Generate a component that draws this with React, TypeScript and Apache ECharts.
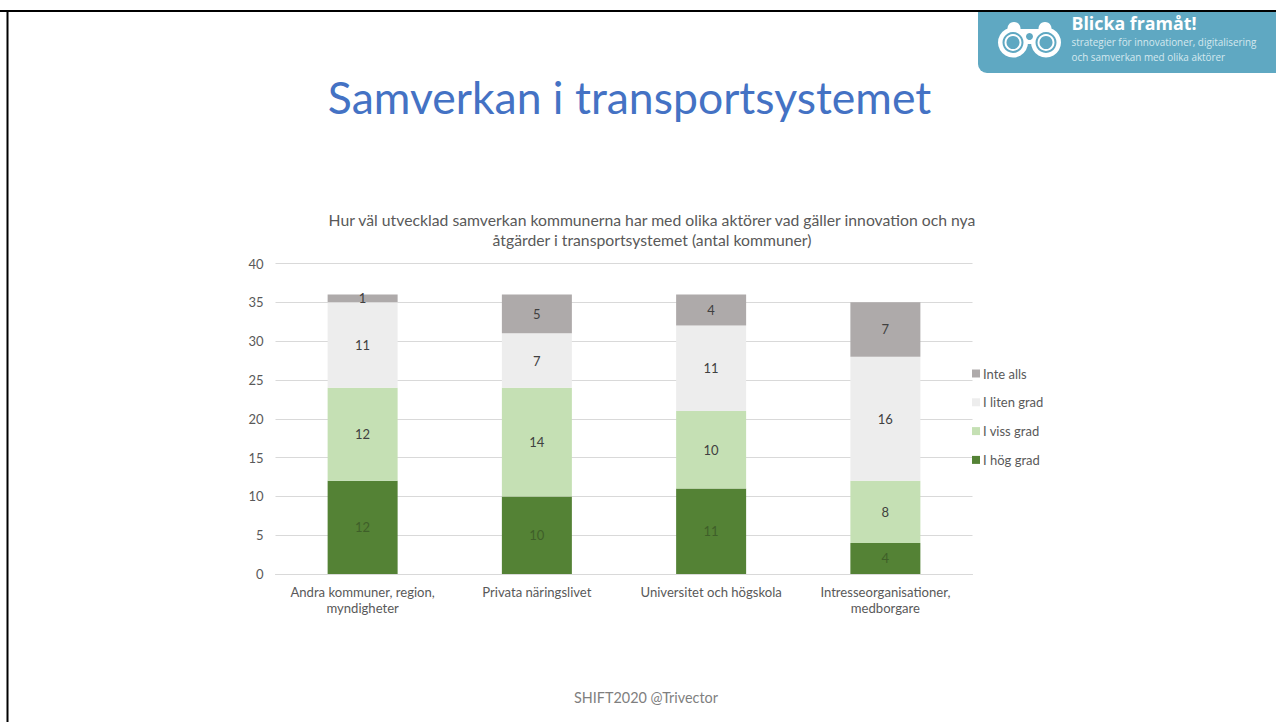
import React, { useEffect, useRef } from "react";
import * as echarts from "echarts";

const categories = [
  "Andra kommuner, region,\nmyndigheter",
  "Privata näringslivet",
  "Universitet och högskola",
  "Intresseorganisationer,\nmedborgare",
];
const hogGrad = [12, 10, 11, 4];
const vissGrad = [12, 14, 10, 8];
const litenGrad = [11, 7, 11, 16];
const inteAlls = [1, 5, 4, 7];
const legendOrder = ["Inte alls", "I liten grad", "I viss grad", "I hög grad"];
const slideTitle = "Samverkan i transportsystemet";
const chartTitle =
  "Hur väl utvecklad samverkan kommunerna har med olika aktörer vad gäller innovation och nya\nåtgärder i transportsystemet (antal kommuner)";
const footer = "SHIFT2020 @Trivector";

const FONT = "Lato, 'Open Sans', sans-serif";
const TEAL = "#5FA8C2";

function bar(name: string, data: number[], color: string, labelColor: string) {
  return {
    name,
    type: "bar",
    stack: "total",
    data,
    barWidth: 70,
    itemStyle: { color },
    label: {
      show: true,
      position: "inside",
      color: labelColor,
      fontSize: 13,
      fontFamily: FONT,
    },
  };
}

function binoculars() {
  const white = { fill: "#ffffff" };
  const teal = { fill: TEAL };
  const left = 1013;
  const right = 1046;
  const cy = 42.5;
  return [
    { type: "circle", shape: { cx: left + 1, cy: 28.5, r: 6.5 }, style: white },
    { type: "circle", shape: { cx: right - 1, cy: 28.5, r: 6.5 }, style: white },
    { type: "rect", shape: { x: left, y: 29, width: right - left, height: 15 }, style: white },
    { type: "circle", shape: { cx: left, cy, r: 15 }, style: white },
    { type: "circle", shape: { cx: right, cy, r: 15 }, style: white },
    { type: "circle", shape: { cx: left, cy, r: 10.5 }, style: teal },
    { type: "circle", shape: { cx: right, cy, r: 10.5 }, style: teal },
    { type: "circle", shape: { cx: left, cy, r: 8.5 }, style: white },
    { type: "circle", shape: { cx: right, cy, r: 8.5 }, style: white },
    { type: "circle", shape: { cx: left, cy, r: 6.5 }, style: teal },
    { type: "circle", shape: { cx: right, cy, r: 6.5 }, style: teal },
    { type: "circle", shape: { cx: 1029.5, cy: 36.5, r: 3.5 }, style: teal },
  ];
}

export default function App() {
  const ref = useRef<HTMLDivElement>(null);

  useEffect(() => {
    const chart = echarts.init(ref.current!, null, { renderer: "svg" });
    chart.setOption({
      animation: false,
      backgroundColor: "#ffffff",
      title: [
        {
          text: slideTitle,
          left: 624.5,
          top: 69,
          textAlign: "center",
          textStyle: { color: "#4472C4", fontSize: 44.5, fontWeight: "normal", fontFamily: FONT },
        },
        {
          text: chartTitle,
          left: 647,
          top: 204,
          textAlign: "center",
          textStyle: {
            color: "#595959",
            fontSize: 15.75,
            lineHeight: 20,
            fontWeight: "normal",
            fontFamily: FONT,
          },
        },
        {
          text: footer,
          left: 641,
          top: 685,
          textAlign: "center",
          textStyle: { color: "#7f7f7f", fontSize: 14.4, fontWeight: "normal", fontFamily: FONT },
        },
      ],
      grid: { left: 275.5, top: 263.5, width: 697, height: 310.5, containLabel: false },
      xAxis: {
        type: "category",
        data: categories,
        axisTick: { show: false },
        axisLine: { lineStyle: { color: "#D9D9D9" } },
        axisLabel: {
          color: "#595959",
          fontSize: 13.1,
          lineHeight: 16,
          margin: 10,
          interval: 0,
          fontFamily: FONT,
        },
      },
      yAxis: {
        type: "value",
        min: 0,
        max: 40,
        interval: 5,
        axisLine: { show: false },
        axisTick: { show: false },
        splitLine: { lineStyle: { color: "#D9D9D9" } },
        axisLabel: { color: "#595959", fontSize: 13, margin: 12, fontFamily: FONT },
      },
      legend: {
        orient: "vertical",
        left: 967,
        top: 362,
        icon: "rect",
        itemWidth: 8,
        itemHeight: 8,
        itemGap: 15.8,
        data: legendOrder,
        selectedMode: false,
        textStyle: {
          color: "#595959",
          fontSize: 13,
          padding: [0, 0, 0, -2],
          fontFamily: FONT,
        },
      },
      series: [
        bar("I hög grad", hogGrad, "#548235", "#3f5f29"),
        bar("I viss grad", vissGrad, "#C5E0B4", "#404040"),
        bar("I liten grad", litenGrad, "#EDEDED", "#404040"),
        bar("Inte alls", inteAlls, "#AEAAAA", "#404040"),
      ],
      graphic: [
        {
          type: "rect",
          shape: { x: 978, y: 12, width: 298, height: 61, r: [0, 0, 0, 9] },
          style: { fill: TEAL },
        },
        ...binoculars(),
        {
          type: "text",
          x: 1071.5,
          y: 14,
          style: {
            text: "Blicka framåt!",
            fill: "#ffffff",
            fontSize: 17.8,
            fontWeight: "bold",
            fontFamily: "'Open Sans', sans-serif",
          },
        },
        {
          type: "text",
          x: 1071.5,
          y: 34,
          style: {
            text: "strategier för innovationer, digitalisering\noch samverkan med olika aktörer",
            fill: "#d5e8ef",
            fontSize: 9.9,
            lineHeight: 15,
            fontFamily: "'Open Sans', sans-serif",
          },
        },
        { type: "rect", shape: { x: 0, y: 10, width: 1276, height: 2 }, style: { fill: "#000000" } },
        { type: "rect", shape: { x: 6.5, y: 10, width: 2, height: 712 }, style: { fill: "#000000" } },
      ],
    });
    return () => chart.dispose();
  }, []);

  return (
    <div
      ref={ref}
      style={{ position: "fixed", left: 0, top: 0, width: 1276, height: 722, overflow: "hidden" }}
    />
  );
}
